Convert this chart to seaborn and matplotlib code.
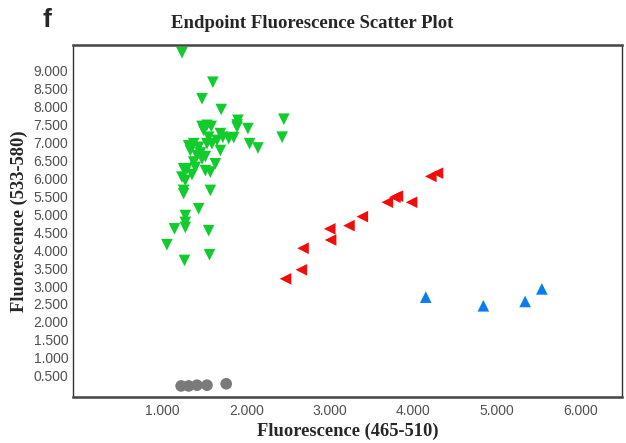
import numpy as np
import pandas as pd
import matplotlib
matplotlib.use('Agg')
import matplotlib.pyplot as plt
import seaborn as sns
from matplotlib.ticker import MultipleLocator, FixedLocator, FormatStrFormatter

# green (downward triangles)
green_x = [1.23, 1.60, 1.47, 1.70, 1.90, 2.45, 2.43, 2.02, 1.89, 2.04, 2.14,
           1.47, 1.53, 1.58, 1.49, 1.55, 1.69, 1.72, 1.79, 1.85, 1.69, 1.59,
           1.53, 1.37, 1.33, 1.43, 1.41, 1.37, 1.47, 1.51, 1.57, 1.63, 1.29,
           1.25, 1.23, 1.27, 1.25, 1.25, 1.57, 1.43, 1.27, 1.27, 1.27, 1.14,
           1.55, 1.05, 1.56, 1.26, 1.45, 1.51, 1.39, 1.35, 1.89, 1.65, 1.31]
green_y = [9.49, 8.67, 8.21, 7.91, 7.61, 7.64, 7.14, 7.38, 7.42, 6.96, 6.84,
           7.44, 7.47, 7.44, 7.33, 7.14, 7.24, 7.14, 7.10, 7.13, 6.77, 6.96,
           6.96, 6.96, 6.77, 6.86, 6.63, 6.45, 6.54, 6.21, 6.17, 6.40, 6.26,
           6.26, 6.03, 5.94, 5.66, 5.57, 5.66, 5.15, 4.96, 4.77, 4.63, 4.59,
           4.54, 4.15, 3.87, 3.71, 6.70, 6.60, 6.30, 6.10, 7.48, 7.05, 6.90]

# red (left triangles)
red_x = [2.47, 2.66, 2.68, 3.01, 3.00, 3.23, 3.39, 3.69, 3.81, 3.78, 3.98, 4.21, 4.29]
red_y = [3.20, 3.45, 4.05, 4.28, 4.59, 4.68, 4.93, 5.33, 5.50, 5.47, 5.33, 6.05, 6.14]

# blue (upward triangles)
blue_x = [4.15, 4.84, 5.34, 5.54]
blue_y = [2.69, 2.45, 2.57, 2.92]

# gray (circles)
gray_x = [1.22, 1.31, 1.41, 1.53, 1.76]
gray_y = [0.22, 0.22, 0.24, 0.24, 0.28]

df = pd.concat([
    pd.DataFrame({'x': green_x, 'y': green_y, 'grp': 'green'}),
    pd.DataFrame({'x': red_x, 'y': red_y, 'grp': 'red'}),
    pd.DataFrame({'x': blue_x, 'y': blue_y, 'grp': 'blue'}),
    pd.DataFrame({'x': gray_x, 'y': gray_y, 'grp': 'gray'}),
])

colors = {'green': '#12CC2E', 'red': '#F20D0D', 'blue': '#0A7CF0', 'gray': '#7A7A7A'}
markers = {'green': 'v', 'red': '<', 'blue': '^', 'gray': 'o'}

sns.set_style('white')
fig = plt.figure(figsize=(6.26, 4.43), dpi=100)
ax = fig.add_axes([0.1166, 0.1045, 0.877, 0.7935])

sns.scatterplot(data=df, x='x', y='y', hue='grp', style='grp', palette=colors,
                markers=markers, s=70, linewidth=0, legend=False, ax=ax)

ax.set_xlim(-0.075, 6.5)
ax.set_ylim(-0.08, 9.7)

ax.xaxis.set_major_locator(FixedLocator([1, 2, 3, 4, 5, 6]))
ax.xaxis.set_minor_locator(FixedLocator([v / 4 for v in range(1, 27) if v % 4 != 0]))
ax.xaxis.set_major_formatter(FormatStrFormatter('%.3f'))
ax.yaxis.set_major_locator(FixedLocator([v / 2 for v in range(1, 19)]))
ax.yaxis.set_minor_locator(MultipleLocator(0.1))
ax.yaxis.set_major_formatter(FormatStrFormatter('%.3f'))

ax.tick_params(axis='both', which='major', direction='out', length=3.5, width=0.8,
               color='#888888', labelcolor='#505050', labelsize=10)
ax.tick_params(axis='y', which='major', length=3, pad=0.5)
ax.tick_params(axis='x', which='major', pad=2)
ax.tick_params(axis='both', which='minor', direction='out', length=2.2, width=0.6,
               color='#999999')
for lab in ax.get_xticklabels() + ax.get_yticklabels():
    lab.set_family('Liberation Sans')

for side in ['left', 'right']:
    ax.spines[side].set_color('#333333')
    ax.spines[side].set_linewidth(1.0)
for side in ['top', 'bottom']:
    ax.spines[side].set_color('#444444')
    ax.spines[side].set_linewidth(1.8)

ax.set_xlabel('Fluorescence (465-510)', family='Liberation Serif', fontweight='bold',
              fontsize=13.3, labelpad=3)
ax.set_ylabel('Fluorescence (533-580)', family='Liberation Serif', fontweight='bold',
              fontsize=13.3, labelpad=4)

fig.text(0.498, 0.948, 'Endpoint Fluorescence Scatter Plot', family='Liberation Serif',
         fontweight='bold', fontsize=13.5, ha='center', va='center')
fig.text(0.075, 0.955, 'f', family='Liberation Sans', fontweight='bold', fontsize=19,
         ha='center', va='center')

fig.savefig('out.png', dpi=100)
